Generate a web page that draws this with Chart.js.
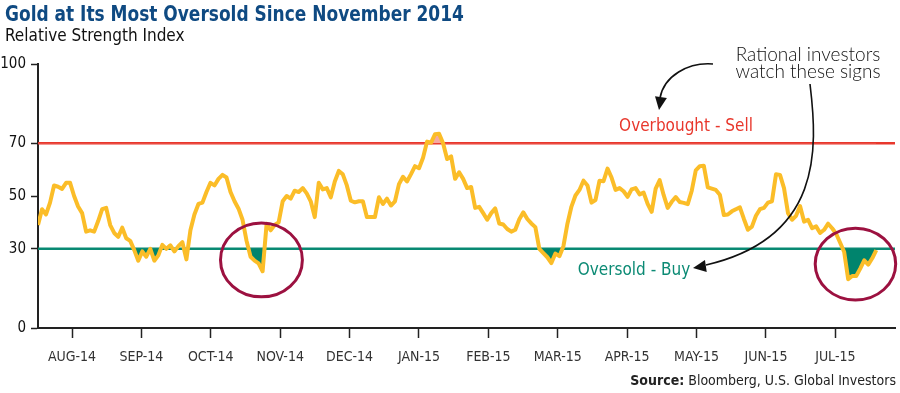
<!DOCTYPE html>
<html lang="en">
<head>
  <meta charset="UTF-8" />
  <title>Gold at Its Most Oversold Since November 2014</title>
  <script src="https://cdn.jsdelivr.net/npm/chart.js"></script>
  <style>
    body { margin: 0; background: #fff; }
    .wrap { position: relative; width: 900px; height: 393px; overflow: hidden;
            font-family: "Liberation Sans Narrow", "DejaVu Sans Condensed", "Roboto", sans-serif; }
    canvas { position: absolute; left: 0; top: 0; }
    .title { position: absolute; left: 5px; top: 2px; font-size: 21px; font-weight: bold; color: #0f4a82;
             white-space: nowrap; transform: scaleX(0.9); transform-origin: left top; }
    .subtitle { position: absolute; left: 5px; top: 25px; font-size: 17px; color: #111; white-space: nowrap; }
    .source { position: absolute; right: 4px; top: 372px; font-size: 14px; color: #222; white-space: nowrap; }
  </style>
</head>
<body>
  <div class="wrap">
    <canvas id="rsiChart" width="900" height="393"></canvas>
    <div class="title">Gold at Its Most Oversold Since November 2014</div>
    <div class="subtitle">Relative Strength Index</div>
    <div class="source"><b>Source:</b> Bloomberg, U.S. Global Investors</div>
  </div>

  <script>
    // month labels, tick at each month (1 = Aug-14 ... 12 = Jul-15)
    const monthLabels = ['AUG-14', 'SEP-14', 'OCT-14', 'NOV-14', 'DEC-14', 'JAN-15',
                         'FEB-15', 'MAR-15', 'APR-15', 'MAY-15', 'JUN-15', 'JUL-15'];
    const monthTicks = [1, 2, 3, 4, 5, 6, 7, 8, 9, 10, 11, 12];
    const yTicks = [0, 30, 50, 70, 100];
    const overbought = 70;
    const oversold = 30;

    // series runs from mid-Jul-14 to mid-Jul-15, evenly spaced sessions
    const xStart = 0.51;
    const xEnd = 12.59;

    // gold RSI
    const rsi = [
      39, 45, 43, 47.5, 54, 53.5, 52.7, 55, 55, 50,
      46, 43.5, 36.5, 37, 36.5, 40.5, 45, 45.5, 39, 36,
      34.5, 38, 34, 33, 29.5, 25.5, 29, 27, 30, 25.5,
      27.5, 31.5, 30, 31.3, 29, 31, 32.5, 26, 37, 43,
      47, 47.5, 51.5, 55, 54, 56.5, 58, 57, 51.5, 48,
      45.2, 41, 33, 27, 25.5, 24.5, 21.5, 39.5, 37, 39,
      40, 48, 50, 49, 52, 51.5, 53, 51, 48, 42,
      55, 52.5, 53, 49.5, 55.5, 59.5, 58.2, 54, 48.2, 47.6,
      48, 48, 42, 42, 42, 49.5, 47, 49, 46.4, 48,
      54.5, 57.3, 55.5, 58.3, 61.3, 60.5, 64.5, 70.6, 70.2, 73.4,
      73.6, 70, 64, 65, 56.5, 59, 56.5, 53, 53.4, 45.5,
      45.9, 43.5, 41, 43.5, 45.3, 39.6, 39.2, 37.5, 36.5, 37.2,
      41.2, 43.8, 41.3, 39.6, 38.2, 30, 28.4, 26.8, 24.6, 28.2,
      27.2, 31, 39.5, 46, 50.2, 52.3, 55.8, 54, 47.5, 48.5,
      55.8, 55.6, 60.4, 57, 52.3, 53, 51.8, 49.7, 52.5, 53,
      50.6, 51.3, 47, 44, 52.8, 56, 50.3, 45.5, 47.8, 49.6,
      47.7, 47.4, 46.9, 52, 59.7, 61.3, 61.5, 53.3, 52.8, 52.3,
      50.5, 42.8, 43, 44.2, 45, 45.7, 41.3, 37.2, 38.4, 42.5,
      45, 45.5, 47.5, 48, 58.2, 58, 53, 43.5, 41, 42.5,
      46.2, 40.3, 41, 37.8, 38.5, 36, 37.2, 39.5, 37.8, 35.7,
      32.3, 28.8, 18.5, 19.7, 19.7, 22.5, 25.6, 24, 26.4, 29.5
    ];

    const FONT = '"Liberation Sans Narrow", "DejaVu Sans Condensed", "Roboto", sans-serif';
    const step = (xEnd - xStart) / (rsi.length - 1);
    const points = rsi.map((v, i) => ({ x: xStart + i * step, y: v }));

    // circles around the two oversold dips (data units)
    const circles = [
      { x: 3.73, y: 25.8, rx: 0.59, ry: 14 },
      { x: 12.29, y: 24.2, rx: 0.58, ry: 13.6 }
    ];

    const annotations = {
      id: 'annotations',
      beforeDatasetsDraw(chart) {
        const { ctx, chartArea, scales } = chart;
        ctx.save();
        ctx.lineWidth = 2.5;
        ctx.strokeStyle = '#e8372c';
        let y = scales.y.getPixelForValue(overbought);
        ctx.beginPath(); ctx.moveTo(chartArea.left, y); ctx.lineTo(chartArea.right, y); ctx.stroke();
        ctx.strokeStyle = '#0b8a74';
        y = scales.y.getPixelForValue(oversold);
        ctx.beginPath(); ctx.moveTo(chartArea.left, y); ctx.lineTo(chartArea.right, y); ctx.stroke();
        ctx.restore();
      },
      afterDatasetsDraw(chart) {
        const { ctx, scales } = chart;
        const sx = scales.x, sy = scales.y;
        ctx.save();

        // ellipses
        ctx.strokeStyle = '#9c1140';
        ctx.lineWidth = 3;
        circles.forEach(c => {
          const cx = sx.getPixelForValue(c.x), cy = sy.getPixelForValue(c.y);
          const rx = sx.getPixelForValue(c.x + c.rx) - cx;
          const ry = cy - sy.getPixelForValue(c.y + c.ry);
          ctx.beginPath();
          ctx.ellipse(cx, cy, rx, ry, 0, 0, Math.PI * 2);
          ctx.stroke();
        });

        // labels
        ctx.font = '17px ' + FONT;
        ctx.textAlign = 'center';
        ctx.textBaseline = 'alphabetic';
        ctx.fillStyle = '#e8372c';
        ctx.fillText('Overbought - Sell', 686, 131);
        ctx.fillStyle = '#0b8a74';
        ctx.fillText('Oversold - Buy', 634, 275);

        ctx.fillStyle = '#111';
        ctx.font = '300 19px "Lato", "Noto Sans", sans-serif';
        ctx.fillText('Rational investors', 808, 61);
        ctx.fillText('watch these signs', 808, 78);

        // arrows
        ctx.strokeStyle = '#111';
        ctx.lineWidth = 1.6;
        ctx.beginPath();
        ctx.moveTo(713, 64);
        ctx.bezierCurveTo(688, 62, 664, 76, 660, 98);
        ctx.stroke();
        arrowHead(ctx, 659, 110, Math.PI / 2 + 0.15);

        ctx.beginPath();
        ctx.moveTo(810, 84);
        ctx.bezierCurveTo(818, 150, 822, 238, 706, 265);
        ctx.stroke();
        arrowHead(ctx, 693, 268, Math.PI - 0.15);

        ctx.restore();
      }
    };

    function arrowHead(ctx, x, y, angle) {
      const len = 13, half = 6;
      ctx.save();
      ctx.translate(x, y);
      ctx.rotate(angle);
      ctx.fillStyle = '#111';
      ctx.beginPath();
      ctx.moveTo(0, 0);
      ctx.lineTo(-len, -half);
      ctx.lineTo(-len, half);
      ctx.closePath();
      ctx.fill();
      ctx.restore();
    }

    new Chart(document.getElementById('rsiChart').getContext('2d'), {
      type: 'line',
      data: {
        datasets: [
          {
            label: 'RSI',
            data: points,
            borderColor: '#fbbd28',
            borderWidth: 4,
            pointRadius: 0,
            tension: 0,
            borderJoinStyle: 'round',
            fill: { target: { value: oversold }, above: 'rgba(0,0,0,0)', below: '#00846d' },
            order: 1
          },
          {
            label: 'overbought fill',
            data: points,
            borderWidth: 0,
            pointRadius: 0,
            fill: { target: { value: overbought }, above: '#f6a9a2', below: 'rgba(0,0,0,0)' },
            order: 2
          }
        ]
      },
      options: {
        responsive: false,
        animation: false,
        devicePixelRatio: 1,
        layout: { padding: { top: 64, right: 5, left: 0, bottom: 0 } },
        plugins: {
          legend: { display: false },
          tooltip: { enabled: false }
        },
        scales: {
          x: {
            type: 'linear',
            min: 0.51,
            max: 12.86,
            afterBuildTicks: (scale) => { scale.ticks = monthTicks.map(v => ({ value: v })); },
            afterFit: (scale) => { scale.height = 65; },
            ticks: {
              autoSkip: false,
              maxRotation: 0,
              padding: 11,
              color: '#333',
              font: { family: FONT, size: 14 },
              callback: (v, i) => monthLabels[i]
            },
            grid: { drawOnChartArea: false, drawTicks: true, tickLength: 10, tickColor: '#222', tickWidth: 1.5 },
            border: { display: true, color: '#222', width: 2 }
          },
          y: {
            min: 0,
            max: 100,
            afterBuildTicks: (scale) => { scale.ticks = yTicks.map(v => ({ value: v })); },
            afterFit: (scale) => { scale.width = 38; },
            ticks: {
              padding: 5,
              color: '#111',
              font: { family: FONT, size: 15 }
            },
            grid: { drawOnChartArea: false, drawTicks: true, tickLength: 7, tickColor: '#222', tickWidth: 1.5 },
            border: { display: true, color: '#222', width: 2 }
          }
        }
      },
      plugins: [annotations]
    });
  </script>
</body>
</html>
